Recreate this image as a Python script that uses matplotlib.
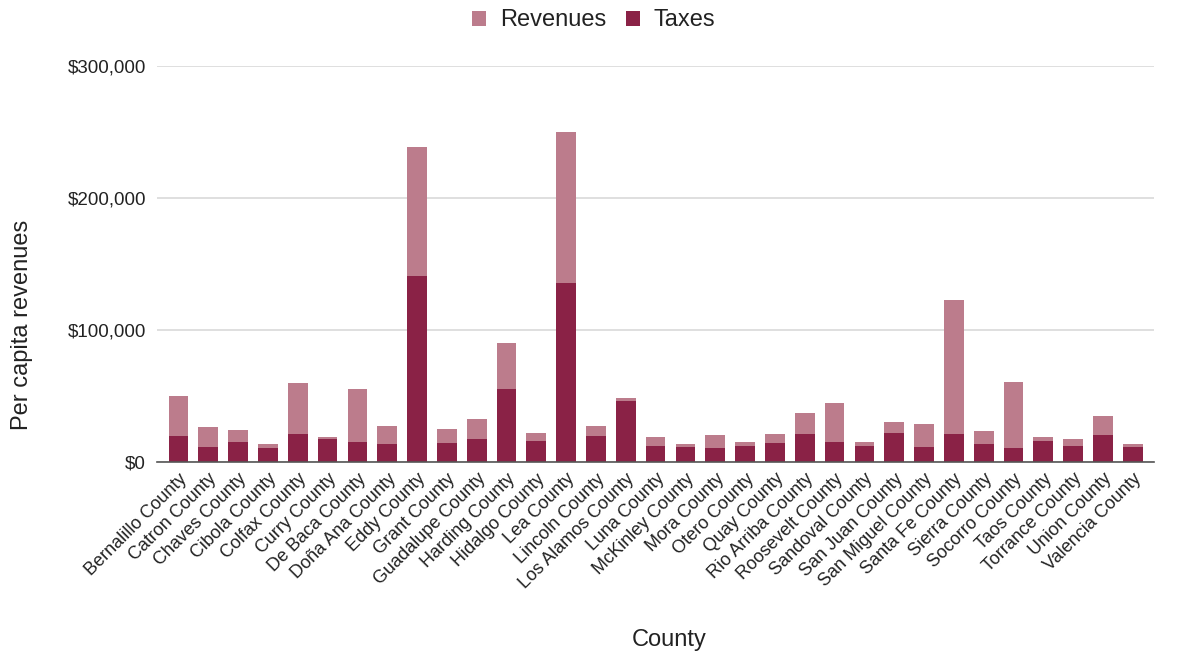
import matplotlib.pyplot as plt
from matplotlib.patches import Patch
from matplotlib.ticker import FuncFormatter
import numpy as np

plt.rcParams['font.family'] = ['Liberation Sans', 'DejaVu Sans']

# Per capita figures by county (US$)
counties = [
    "Bernalillo County", "Catron County", "Chaves County", "Cibola County",
    "Colfax County", "Curry County", "De Baca County", "Doña Ana County",
    "Eddy County", "Grant County", "Guadalupe County", "Harding County",
    "Hidalgo County", "Lea County", "Lincoln County", "Los Alamos County",
    "Luna County", "McKinley County", "Mora County", "Otero County",
    "Quay County", "Rio Arriba County", "Roosevelt County", "Sandoval County",
    "San Juan County", "San Miguel County", "Santa Fe County", "Sierra County",
    "Socorro County", "Taos County", "Torrance County", "Union County",
    "Valencia County",
]
revenues = [
    50000, 26400, 23900, 13400, 60000, 18600, 55200, 27500,
    238500, 24900, 32200, 89900, 22200, 250000, 27500, 48100,
    18600, 13400, 20400, 15100, 21400, 37300, 44600, 15100,
    30500, 28500, 122900, 23200, 60700, 18600, 17100, 34800,
    13400,
]
taxes = [
    19600, 11600, 15100, 10800, 21400, 17600, 15100, 13400,
    140600, 14100, 17100, 55200, 16100, 135500, 19600, 46300,
    12100, 11600, 10600, 12100, 14100, 21400, 15100, 12300,
    21900, 11600, 21400, 13400, 10800, 16100, 12300, 20400,
    11600,
]

light = "#bc7c8c"
dark = "#8a2246"

fig = plt.figure(figsize=(11.83, 6.58), dpi=100)
ax = fig.add_axes([0.1327, 0.298, 0.843, 0.602])

x = np.arange(len(counties))
w = 0.66
ax.bar(x, revenues, width=w, color=light, zorder=2)
ax.bar(x, taxes, width=w, color=dark, zorder=3)

ax.set_xlim(-0.72, len(counties) - 0.28)
ax.set_ylim(0, 300000)
ax.set_yticks([0, 100000, 200000, 300000])
ax.yaxis.set_major_formatter(FuncFormatter(lambda v, _: f"${v:,.0f}"))
ax.grid(axis='y', color='#d9d9d9', linewidth=1.2, zorder=0)

for side in ['top', 'right', 'left']:
    ax.spines[side].set_visible(False)
ax.spines['bottom'].set_color('#555555')
ax.spines['bottom'].set_linewidth(1.2)
ax.spines['bottom'].set_zorder(4)

ax.tick_params(axis='both', length=0, colors='#222222')
ax.tick_params(axis='y', labelsize=13.5, pad=8)
ax.tick_params(axis='x', labelsize=13, pad=6)
ax.set_xticks(x)
ax.set_xticklabels(counties, rotation=45, ha='right', rotation_mode='anchor')

fig.text(0.019, 0.507, "Per capita revenues", rotation=90, fontsize=17,
         color='#222222', ha='center', va='center')
fig.text(0.566, 0.027, "County", fontsize=17, color='#222222',
         ha='center', va='center')

handles = [Patch(facecolor=light, label="Revenues"),
           Patch(facecolor=dark, label="Taxes")]
fig.legend(handles=handles, loc='center', bbox_to_anchor=(0.502, 0.969),
           ncol=2, frameon=False, fontsize=17, handlelength=0.6,
           handleheight=0.6, handletextpad=0.6, columnspacing=0.8,
           labelcolor='#222222')

fig.savefig("out.png", dpi=100)
